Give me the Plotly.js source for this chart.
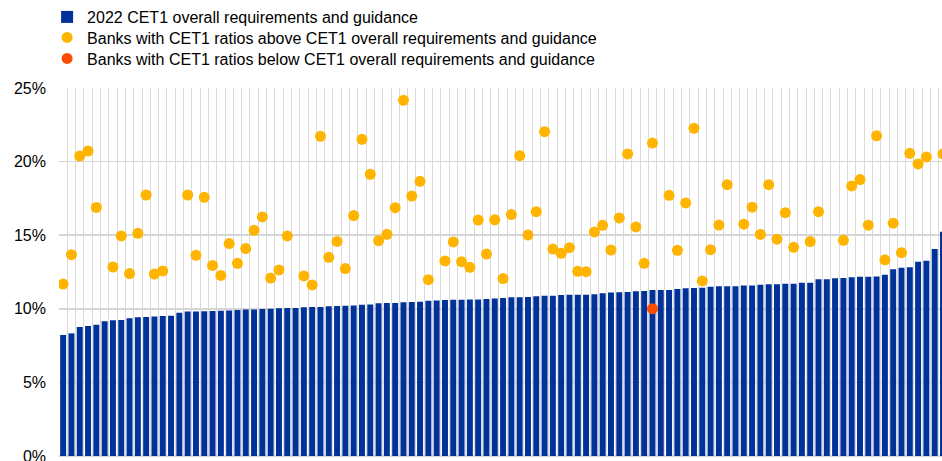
<!DOCTYPE html>
<html>
<head>
<meta charset="utf-8">
<script src="https://cdn.plot.ly/plotly-3.0.1.min.js"></script>
<style>html,body{margin:0;padding:0;background:#fff;}#chart{width:942px;height:461px;}</style>
</head>
<body>
<div id="chart"></div>
<script>
// 2022 CET1 overall requirements and guidance, per bank (%), sorted
var requirements = [
  8.22, 8.33, 8.76, 8.83, 8.92, 9.15, 9.22, 9.24, 9.35, 9.42,
  9.44, 9.47, 9.51, 9.53, 9.74, 9.81, 9.81, 9.83, 9.85, 9.87,
  9.89, 9.92, 9.96, 9.96, 9.98, 10.01, 10.03, 10.05, 10.05, 10.10,
  10.12, 10.12, 10.17, 10.19, 10.21, 10.23, 10.28, 10.30, 10.37, 10.39,
  10.39, 10.44, 10.46, 10.48, 10.55, 10.57, 10.60, 10.62, 10.62, 10.64,
  10.64, 10.67, 10.70, 10.73, 10.78, 10.78, 10.80, 10.85, 10.89, 10.89,
  10.94, 10.96, 10.96, 10.96, 10.98, 11.05, 11.10, 11.12, 11.14, 11.19,
  11.21, 11.28, 11.28, 11.28, 11.35, 11.39, 11.41, 11.43, 11.50, 11.53,
  11.53, 11.53, 11.59, 11.59, 11.64, 11.66, 11.66, 11.70, 11.71, 11.77,
  11.77, 12.01, 12.01, 12.07, 12.09, 12.14, 12.17, 12.18, 12.19, 12.32,
  12.68, 12.79, 12.82, 13.20, 13.27, 14.06, 15.24
];
// Banks with CET1 ratios above requirements (null = no marker)
var aboveRatios = [
  11.68, 13.68, 20.38, 20.72, 16.89, null, 12.84, 14.95, 12.39, 15.13,
  17.73, 12.36, 12.57, null, null, 17.73, 13.63, 17.57, 12.95, 12.27,
  14.43, 13.09, 14.09, 15.33, 16.24, 12.09, 12.64, 14.95, null, 12.23,
  11.62, 21.72, 13.50, 14.58, 12.73, 16.33, 21.51, 19.14, 14.63, 15.06,
  16.87, 24.16, 17.66, 18.66, 11.98, null, 13.25, 14.54, 13.20, 12.82,
  16.03, 13.72, 16.05, 12.05, 16.40, 20.40, 15.01, 16.60, 22.03, 14.06,
  13.77, 14.15, 12.55, 12.52, 15.22, 15.67, 13.99, 16.17, 20.52, 15.56,
  13.09, 21.26, null, 17.71, 13.97, 17.19, 22.26, 11.89, 14.02, 15.69,
  18.43, null, 15.75, 16.90, 15.05, 18.43, 14.73, 16.53, 14.18, null,
  14.57, 16.60, null, null, 14.65, 18.35, 18.78, 15.68, 21.75, 13.33,
  15.82, 13.81, 20.56, 19.84, 20.32, null, 20.53
];
// Banks with CET1 ratios below requirements
var belowBank = [71];
var belowRatios = [10.01];
var yTicks = [0, 5, 10, 15, 20, 25];

var bankIndex = requirements.map(function (v, i) { return i; });

var traces = [
  {
    type: 'bar', name: '2022 CET1 overall requirements and guidance',
    x: bankIndex, y: requirements, width: 0.72,
    marker: {color: '#003299', line: {width: 0}},
    legend: 'legend', hoverinfo: 'y'
  },
  {
    type: 'scatter', mode: 'markers',
    name: 'Banks with CET1 ratios above CET1 overall requirements and guidance',
    x: bankIndex, y: aboveRatios,
    marker: {color: '#FFB400', size: 11},
    legend: 'legend2', hoverinfo: 'y'
  },
  {
    type: 'scatter', mode: 'markers',
    name: 'Banks with CET1 ratios below CET1 overall requirements and guidance',
    x: belowBank, y: belowRatios,
    marker: {color: '#FF4B00', size: 11},
    legend: 'legend3', hoverinfo: 'y'
  }
];

function legendAt(topPx) {
  return {
    xref: 'container', yref: 'container',
    x: 0.05, y: 1 - topPx / 461, xanchor: 'left', yanchor: 'top',
    orientation: 'v', font: {size: 16, color: '#000'}, bgcolor: 'rgba(0,0,0,0)'
  };
}

var layout = {
  width: 942, height: 461,
  margin: {l: 59, r: 0, t: 88, b: 5, pad: 0, autoexpand: false},
  paper_bgcolor: '#fff', plot_bgcolor: '#fff',
  font: {family: 'Arial, "Liberation Sans", sans-serif', color: '#000', size: 16},
  showlegend: true,
  legend: legendAt(0),
  legend2: legendAt(20.5),
  legend3: legendAt(41.5),
  bargap: 0.28,
  xaxis: {
    type: 'linear', range: [-0.5, 105.88],
    tick0: -0.5, dtick: 1, showticklabels: false, ticks: '',
    showgrid: true, gridcolor: '#dadada', gridwidth: 1,
    zeroline: false, showline: false, fixedrange: true, automargin: false
  },
  yaxis: {
    range: [0, 25], tickmode: 'array', tickvals: yTicks,
    ticktext: yTicks.map(function (v) { return v + '%'; }),
    showgrid: true, gridcolor: '#d6d6d6', gridwidth: 1.5,
    zeroline: true, zerolinecolor: '#d6d6d6', zerolinewidth: 1.5,
    showline: false, ticks: '', ticklabelstandoff: 12,
    ticklabeloverflow: 'allow',
    tickfont: {size: 16, color: '#000'}, fixedrange: true, automargin: false
  }
};

Plotly.newPlot('chart', traces, layout, {displayModeBar: false, staticPlot: true});
</script>
</body>
</html>
